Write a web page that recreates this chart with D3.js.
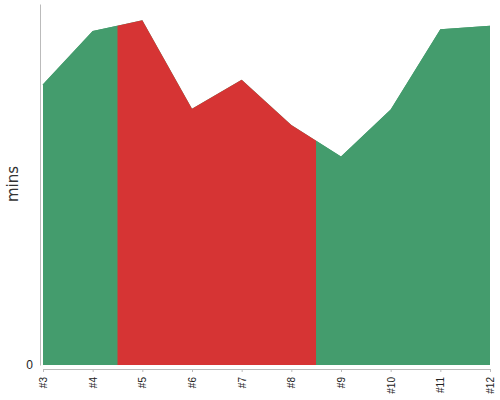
<!DOCTYPE html>
<html>
  <head>
    <meta charset="utf-8">
    <title>Minutes per sprint</title>
    <script src="https://d3js.org/d3.v7.min.js"></script>
    <style>
      body {
        margin: 0;
        background: #ffffff;
      }
      svg {
        font-family: "DejaVu Sans", sans-serif;
      }
      .axis path, .axis line {
        stroke: #bbbbbb;
      }
      .axis text {
        fill: #222222;
      }
    </style>
  </head>
  <body>
    <svg width="500" height="400"></svg>
    <script>
      // values
      var labels = ["#3", "#4", "#5", "#6", "#7", "#8", "#9", "#10", "#11", "#12"];
      var steps = [3, 4, 5, 6, 7, 8, 9, 10, 11, 12];
      var mins = [31.1, 37.0, 38.2, 28.4, 31.6, 26.6, 23.1, 28.3, 37.2, 37.6];
      var state = ["ok", "ok", "late", "late", "late", "late", "ok", "ok", "ok", "ok"];
      var colors = { ok: "#449c6d", late: "#d63434" };

      var svg = d3.select("svg");

      var x = d3.scaleLinear()
        .domain([3, 12])
        .range([43, 490]);
      var y = d3.scaleLinear()
        .domain([0, 40])
        .range([365, 4]);

      // split the series into runs of the same state, joined at the midpoints
      var runs = [];
      var cur = null;
      for (var i = 0; i < steps.length; i++) {
        var pt = { s: steps[i], v: mins[i] };
        if (!cur || cur.state != state[i]) {
          if (cur) {
            var mid = { s: (steps[i - 1] + steps[i]) / 2, v: (mins[i - 1] + mins[i]) / 2 };
            cur.pts.push(mid);
            cur = { state: state[i], pts: [mid] };
          } else {
            cur = { state: state[i], pts: [] };
          }
          runs.push(cur);
        }
        cur.pts.push(pt);
      }

      var area = d3.area()
        .x(function(d) { return x(d.s); })
        .y0(y(0))
        .y1(function(d) { return y(d.v); });

      // whole area underneath so the joins show no seam
      svg.append("path")
        .attr("d", area(steps.map(function(s, i) { return { s: s, v: mins[i] }; })))
        .attr("fill", colors.ok);

      svg.selectAll("path.run")
        .data(runs)
        .enter()
        .append("path")
          .attr("class", "run")
          .attr("d", function(d) { return area(d.pts); })
          .attr("fill", function(d) { return colors[d.state]; });

      // y axis
      var yAxis = svg.append("g")
        .attr("class", "axis")
        .attr("transform", "translate(40,0)")
        .call(d3.axisLeft(y).tickValues([0]).tickSize(0).tickSizeOuter(0).tickPadding(7));
      yAxis.selectAll("text")
        .attr("font-size", 12)
        .attr("fill", "#444444");

      svg.append("text")
        .attr("transform", "translate(18,184) rotate(-90)")
        .attr("text-anchor", "middle")
        .attr("font-size", 15)
        .attr("fill", "#333333")
        .text("mins");

      // x axis
      var xAxis = svg.append("g")
        .attr("class", "axis")
        .attr("transform", "translate(0,369)")
        .call(d3.axisBottom(x)
          .tickValues(steps)
          .tickFormat(function(d, i) { return labels[i]; })
          .tickSize(3)
          .tickSizeOuter(0));
      xAxis.selectAll("text")
        .attr("font-size", 10)
        .attr("fill", "#111111")
        .attr("text-anchor", "end")
        .attr("transform", "rotate(-90)")
        .attr("x", -8)
        .attr("y", 0)
        .attr("dy", "0.35em");
    </script>
  </body>
</html>
